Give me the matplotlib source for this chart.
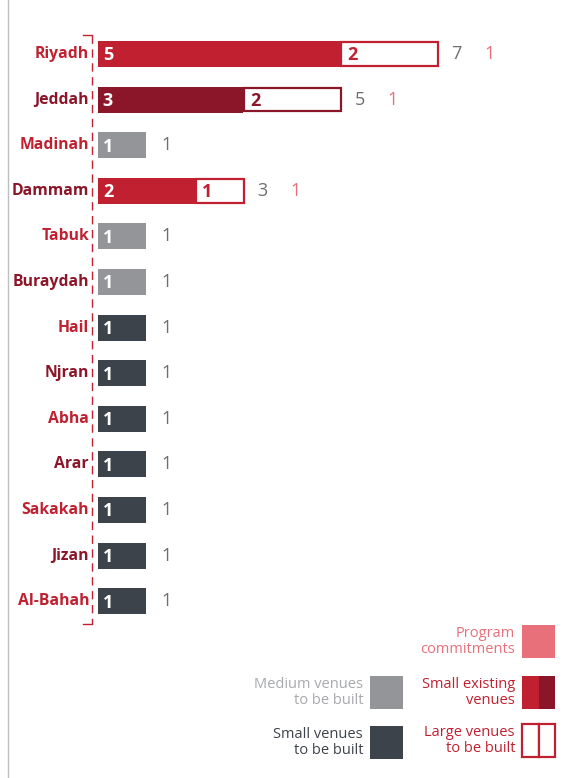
import matplotlib
matplotlib.use('Agg')
import matplotlib.pyplot as plt
from matplotlib.patches import Rectangle

plt.rcParams['font.family'] = ['Open Sans', 'DejaVu Sans']

# Data
cities = ['Riyadh', 'Jeddah', 'Madinah', 'Dammam', 'Tabuk', 'Buraydah', 'Hail',
          'Njran', 'Abha', 'Arar', 'Sakakah', 'Jizan', 'Al-Bahah']
small_existing = [5, 3, 0, 2, 0, 0, 0, 0, 0, 0, 0, 0, 0]
large_new = [2, 2, 0, 1, 0, 0, 0, 0, 0, 0, 0, 0, 0]
medium_new = [0, 0, 1, 0, 1, 1, 0, 0, 0, 0, 0, 0, 0]
small_new = [0, 0, 0, 0, 0, 0, 1, 1, 1, 1, 1, 1, 1]
program = [1, 1, 0, 1, 0, 0, 0, 0, 0, 0, 0, 0, 0]

# Colours
red = '#c0202f'
dark_red = '#8b1629'
pink = '#e8707a'
grey = '#939598'
slate = '#3d434a'
num_grey = '#6d6e71'

W, H = 566, 778
UNIT = 48.4     # px per venue
X0 = 98         # px of zero
ROW0, ROWSTEP = 54, 45.6


def px(x, y):
	""" pixel coords (from top-left) to figure fraction """
	return x / W, 1 - y / H


fig = plt.figure(figsize=(W / 100, H / 100), dpi=100)
ax = fig.add_axes([0, 0, 1, 1])
ax.set_xlim(-X0 / UNIT, (W - X0) / UNIT)
ax.set_ylim((H - ROW0) / ROWSTEP, -ROW0 / ROWSTEP)
ax.axis('off')

bh = 0.57
ex_cols = [red, dark_red]
k = 0
for i, city in enumerate(cities):
	left = 0
	if small_existing[i]:
		c = ex_cols[k % 2]
		k += 1
		ax.barh(i, small_existing[i], left=left, height=bh, color=c, zorder=2)
		ax.text(left + 0.1, i + 0.03, str(small_existing[i]), color='white', fontsize=13,
				fontweight='bold', ha='left', va='center', zorder=3)
		left += small_existing[i]
		if large_new[i]:
			ax.barh(i, large_new[i], left=left + 0.02, height=bh - 0.05, color='white',
					edgecolor=c, linewidth=1.6, zorder=2)
			ax.text(left + 0.15, i + 0.03, str(large_new[i]), color=c, fontsize=13,
					fontweight='bold', ha='left', va='center', zorder=3)
			left += large_new[i]
	if medium_new[i]:
		ax.barh(i, medium_new[i], left=left, height=bh, color=grey, zorder=2)
		ax.text(left + 0.1, i + 0.03, str(medium_new[i]), color='white', fontsize=13,
				fontweight='bold', ha='left', va='center', zorder=3)
		left += medium_new[i]
	if small_new[i]:
		ax.barh(i, small_new[i], left=left, height=bh, color=slate, zorder=2)
		ax.text(left + 0.1, i + 0.03, str(small_new[i]), color='white', fontsize=13,
				fontweight='bold', ha='left', va='center', zorder=3)
		left += small_new[i]
	total = small_existing[i] + large_new[i] + medium_new[i] + small_new[i]
	ax.text(left + 0.3, i, str(total), color=num_grey, fontsize=13, ha='left', va='center')
	if program[i]:
		ax.text(left + 0.98, i, str(program[i]), color=pink, fontsize=13, ha='left', va='center')
	# city label
	ax.text(-9 / UNIT, i, city, color=red if i % 2 == 0 else dark_red, fontsize=11.3,
			fontweight='bold', ha='right', va='center')

# dashed axis bracket
fx, fy0 = px(92, 35)
_, fy1 = px(92, 624)
fig.add_artist(plt.Line2D([fx, fx], [fy0, fy1], color=red, lw=1, dashes=(6, 4)))
for yy in (35, 624):
	a, b = px(83, yy)
	fig.add_artist(plt.Line2D([a, fx], [b, b], color=red, lw=1))

# page border on the left
fig.add_artist(plt.Line2D([8 / W, 8 / W], [0, 1], color='#bcbec0', lw=1))


# Legend
def legend_box(x, y, fc, text, tc, kind='solid'):
	bx, by = px(x, y + 33)
	bw, bhh = 33 / W, 33 / H
	if kind == 'solid':
		fig.add_artist(Rectangle((bx, by), bw, bhh, facecolor=fc, edgecolor='none',
								 transform=fig.transFigure))
	elif kind == 'split':
		fig.add_artist(Rectangle((bx, by), bw * 0.5, bhh, facecolor=red, edgecolor='none',
								 transform=fig.transFigure))
		fig.add_artist(Rectangle((bx + bw * 0.5, by), bw * 0.5, bhh, facecolor=dark_red,
								 edgecolor='none', transform=fig.transFigure))
	else:
		fig.add_artist(Rectangle((bx, by), bw * 0.5, bhh, facecolor='white', edgecolor=red,
								 lw=1.6, transform=fig.transFigure))
		fig.add_artist(Rectangle((bx + bw * 0.5, by), bw * 0.5, bhh, facecolor='white',
								 edgecolor=red, lw=1.6, transform=fig.transFigure))
	tx, ty = px(x - 7, y + 16.5)
	fig.text(tx, ty, text, color=tc, fontsize=10.5, ha='right', va='center', linespacing=1.12)


legend_box(522, 625, pink, 'Program\ncommitments', pink)
legend_box(522, 676, None, 'Small existing\nvenues', red, kind='split')
legend_box(522, 724, None, 'Large venues\nto be built', red, kind='outline')
legend_box(370, 676, grey, 'Medium venues\nto be built', '#a7a9ac')
legend_box(370, 726, slate, 'Small venues\nto be built', slate)

plt.savefig('out.png', dpi=100)
plt.close()
